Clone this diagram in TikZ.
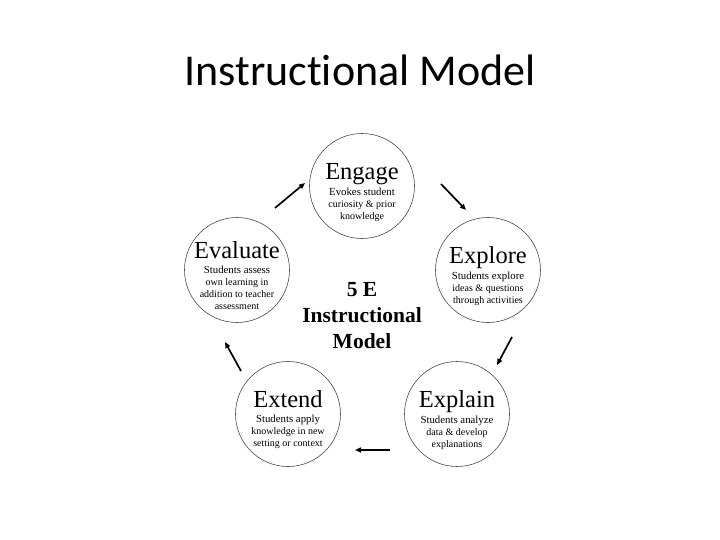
\documentclass[tikz,border=0pt]{standalone}
\usepackage{fontspec}
\setmainfont{Liberation Serif}
\newfontfamily\titlefont[Ligatures=NoCommon]{Carlito}
\usetikzlibrary{arrows.meta, positioning, calc}

% heading carries a tall strut so the text block sits a little low in the circle
\newcommand{\stagehead}{\fontsize{24.5}{26}\selectfont\rule{0pt}{29pt}}
\newcommand{\stagetext}{\fontsize{10.8}{13.2}\selectfont}

\begin{document}
\begin{tikzpicture}[x=1pt, y=-1pt,
  stage/.style={circle, draw=black!70, line width=0.6pt, minimum size=105pt,
                inner sep=-16pt, align=center, text=black},
  flow/.style={-{Triangle[length=6pt, width=5pt]}, line width=1.7pt, black}]

% Background / page size
\useasboundingbox (0,0) rectangle (720,540);
\fill[white] (0,0) rectangle (720,540);

% Title
\node[font=\titlefont\fontsize{44}{48}\selectfont] (title) at (360,70) {Instructional Model};

% =========== STAGES ===========
\node[stage] (engage) at (362,186)
  {\stagehead Engage\\[3pt]
   \stagetext Evokes student\\curiosity \& prior\\knowledge};

\node[stage] (explore) at (488,270)
  {\stagehead Explore\\[3pt]
   \stagetext Students explore\\ideas \& questions\\through activities};

\node[stage] (explain) at (457,414)
  {\stagehead Explain\\[3pt]
   \stagetext Students analyze\\data \& develop\\explanations};

\node[stage] (extend) at (288,414)
  {\stagehead Extend\\[3pt]
   \stagetext Students apply\\knowledge in new\\setting or context};

\node[stage] (evaluate) at (237,270)
  {\stagehead Evaluate\\[3pt]
   \stagetext Students assess\\own learning in\\addition to teacher\\assessment};

% Centre label
\node[font=\fontsize{21.5}{26}\selectfont\bfseries, align=center] (model) at (362,316)
  {5 E\\Instructional\\Model};

% =========== CYCLE ARROWS ===========
\draw[flow] ([shift={(79,-2)}]engage.center) -- ([shift={(-22,-60)}]explore.center);
\draw[flow] ([shift={(24,67)}]explore.center) -- ([shift={(40,-49)}]explain.center);
\draw[flow] ([shift={(-67,36)}]explain.center) -- ([shift={(67,36)}]extend.center);
\draw[flow] ([shift={(-47,-43)}]extend.center) -- ([shift={(-12,72)}]evaluate.center);
\draw[flow] ([shift={(38,-62)}]evaluate.center) -- ([shift={(-57,-3)}]engage.center);

\end{tikzpicture}
\end{document}
